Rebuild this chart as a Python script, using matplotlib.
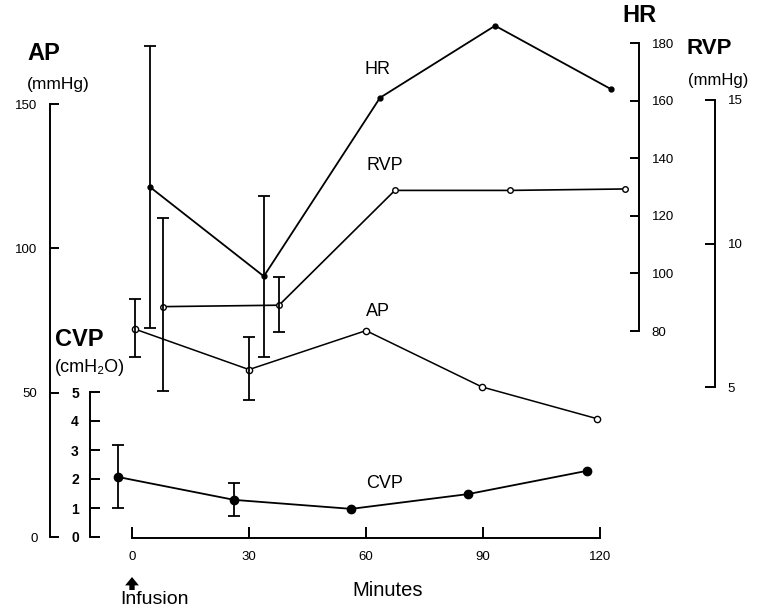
import matplotlib
matplotlib.use("Agg")
import matplotlib.pyplot as plt

plt.rcParams['font.family'] = ['Liberation Sans', 'DejaVu Sans']

# Data (x in minutes, series are drawn slightly offset)
hr_x = [4.6, 33.8, 63.6, 93.1, 122.8]
hr_y = [130, 99, 161, 186, 164]
hr_lo = [81, 71]
hr_hi = [179, 127]

rvp_x = [7.9, 37.7, 67.4, 96.9, 126.4]
rvp_y = [7.8, 7.85, 11.85, 11.85, 11.9]
rvp_lo = [4.85, 6.9]
rvp_hi = [10.9, 8.85]

ap_x = [0.8, 30.0, 60.0, 89.7, 119.2]
ap_y = [72, 58, 71.5, 52, 41]
ap_lo = [62.3, 47.5]
ap_hi = [82.4, 69.3]

cvp_x = [-3.6, 26.2, 56.2, 86.2, 116.6]
cvp_y = [2.07, 1.28, 0.97, 1.48, 2.28]
cvp_lo = [1.0, 0.72]
cvp_hi = [3.17, 1.86]

minute_ticks = [0, 30, 60, 90, 120]
ap_ticks = [0, 50, 100, 150]
cvp_ticks = [0, 1, 2, 3, 4, 5]
hr_ticks = [80, 100, 120, 140, 160, 180]
rvp_ticks = [5, 10, 15]

W, H = 761, 612
fig = plt.figure(figsize=(W / 100, H / 100), dpi=100)


def px_min(px):
    return (px - 132) * 30 / 117


def ylims(v1, p1, v2, p2):
    s = (v2 - v1) / (p2 - p1)
    return v1 + (H - p1) * s, v1 + (0 - p1) * s


def make_ax(v1, p1, v2, p2):
    ax = fig.add_axes([0, 0, 1, 1])
    ax.set_xlim(px_min(0), px_min(W))
    ax.set_ylim(*ylims(v1, p1, v2, p2))
    ax.patch.set_visible(False)
    for s in ax.spines.values():
        s.set_visible(False)
    ax.set_xticks([])
    ax.set_yticks([])
    return ax


ax_ap = make_ax(0, 537, 150, 104)
ax_cvp = make_ax(0, 537, 5, 392)
ax_hr = make_ax(80, 331, 180, 43)
ax_rvp = make_ax(5, 387, 15, 100)

lw_ax = 1.4
# AP axis (left)
sp = ax_ap.spines['left']
sp.set_visible(True)
sp.set_position(('data', px_min(50)))
sp.set_bounds(0, 150)
sp.set_linewidth(lw_ax)
ax_ap.set_yticks(ap_ticks)
ax_ap.tick_params(axis='y', direction='in', length=6.5, width=lw_ax, pad=9, labelsize=9.5)

# minutes axis
sp = ax_ap.spines['bottom']
sp.set_visible(True)
sp.set_position(('data', -0.35))
sp.set_bounds(0, 120)
sp.set_linewidth(lw_ax)
ax_ap.set_xticks(minute_ticks)
ax_ap.tick_params(axis='x', direction='in', length=8, width=lw_ax, pad=9, labelsize=9.5)

# CVP axis
sp = ax_cvp.spines['left']
sp.set_visible(True)
sp.set_position(('data', px_min(90)))
sp.set_bounds(0, 5)
sp.set_linewidth(lw_ax)
ax_cvp.set_yticks(cvp_ticks)
ax_cvp.tick_params(axis='y', direction='in', length=7, width=lw_ax, pad=8, labelsize=10)
for t in ax_cvp.get_yticklabels():
    t.set_fontweight('bold')

# HR axis (right)
sp = ax_hr.spines['right']
sp.set_visible(True)
sp.set_position(('data', px_min(639)))
sp.set_bounds(80, 180)
sp.set_linewidth(lw_ax)
ax_hr.yaxis.tick_right()
ax_hr.set_yticks(hr_ticks)
ax_hr.tick_params(axis='y', direction='in', length=6.5, width=lw_ax, pad=9, labelsize=9.5)

# RVP axis (right)
sp = ax_rvp.spines['right']
sp.set_visible(True)
sp.set_position(('data', px_min(715)))
sp.set_bounds(5, 15)
sp.set_linewidth(lw_ax)
ax_rvp.yaxis.tick_right()
ax_rvp.set_yticks(rvp_ticks)
ax_rvp.tick_params(axis='y', direction='in', length=7, width=lw_ax, pad=9, labelsize=9.5)

eb = dict(fmt='none', ecolor='black', elinewidth=1.3, capsize=4.5, capthick=1.3)

# HR
ax_hr.plot(hr_x, hr_y, color='black', lw=1.3, marker='o', ms=3.5)
ax_hr.errorbar(hr_x[:2], hr_y[:2],
               yerr=[[y - l for y, l in zip(hr_y, hr_lo)], [h - y for y, h in zip(hr_y, hr_hi)]], **eb)

# RVP
ax_rvp.plot(rvp_x, rvp_y, color='black', lw=1.2, marker='o', ms=4, mfc='white', mew=1)
ax_rvp.errorbar(rvp_x[:2], rvp_y[:2],
                yerr=[[y - l for y, l in zip(rvp_y, rvp_lo)], [h - y for y, h in zip(rvp_y, rvp_hi)]], **eb)

# AP
ax_ap.plot(ap_x, ap_y, color='black', lw=1.1, marker='o', ms=4.5, mfc='white', mew=1)
ax_ap.errorbar(ap_x[:2], ap_y[:2],
               yerr=[[y - l for y, l in zip(ap_y, ap_lo)], [h - y for y, h in zip(ap_y, ap_hi)]], **eb)

# CVP
ax_cvp.plot(cvp_x, cvp_y, color='black', lw=1.3, marker='o', ms=6)
ax_cvp.errorbar(cvp_x[:2], cvp_y[:2],
                yerr=[[y - l for y, l in zip(cvp_y, cvp_lo)], [h - y for y, h in zip(cvp_y, cvp_hi)]], **eb)


def ftext(x, y, s, **kw):
    fig.text(x / W, 1 - y / H, s, **kw)


# axis titles
ftext(27, 53, 'AP', fontsize=17, fontweight='bold', va='center')
ftext(27, 85, '(mmHg)', fontsize=12.5, va='center')
ftext(55, 340, 'CVP', fontsize=17, fontweight='bold', va='center')
ftext(55, 368, '(cmH₂O)', fontsize=13, va='center')
ftext(622, 16, 'HR', fontsize=17, fontweight='bold', va='center')
ftext(686, 48, 'RVP', fontsize=16, fontweight='bold', va='center')
ftext(688, 80, '(mmHg)', fontsize=12, va='center')

# series labels
ftext(365, 69, 'HR', fontsize=13, va='center')
ftext(366, 166, 'RVP', fontsize=13, va='center')
ftext(366, 312, 'AP', fontsize=13, va='center')
ftext(366, 484, 'CVP', fontsize=13, va='center')

ftext(388, 590, 'Minutes', fontsize=14.5, ha='center', va='center')
ftext(155, 600, 'Infusion', fontsize=14, ha='center', va='center')
fig.add_artist(matplotlib.patches.FancyArrowPatch(
    (132 / W, 1 - 590 / H), (132 / W, 1 - 577 / H), transform=fig.transFigure,
    arrowstyle='simple,head_width=0.9,head_length=0.55,tail_width=0.35',
    mutation_scale=11, lw=0, color='black', shrinkA=0, shrinkB=0))

fig.savefig('out.png', dpi=100)
